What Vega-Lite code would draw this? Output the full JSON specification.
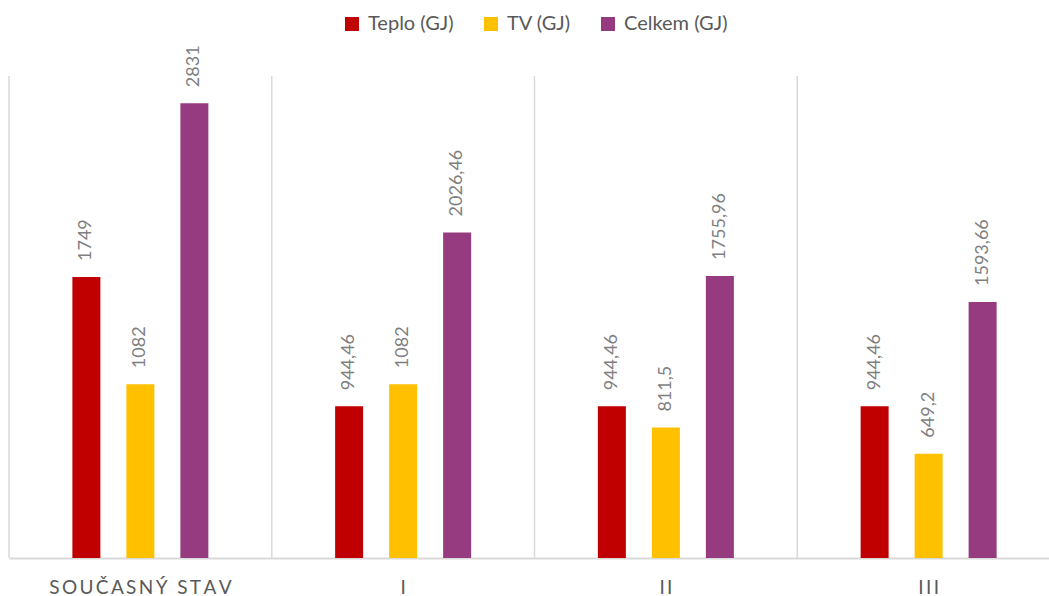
{
  "$schema": "https://vega.github.io/schema/vega-lite/v6.json",
  "width": 1040,
  "height": 482,
  "autosize": {"type": "none"},
  "padding": {"left": 9, "top": 76, "right": 0, "bottom": 38},
  "background": "white",
  "config": {
    "view": {"stroke": null},
    "font": "Lato",
    "locale": {"number": {"decimal": ",", "thousands": " ", "grouping": [3], "currency": ["", " Kč"]}}
  },
  "datasets": {
    "values": [
      {"cat": "SOUČASNÝ STAV", "series": "Teplo (GJ)", "value": 1749},
      {"cat": "SOUČASNÝ STAV", "series": "TV (GJ)", "value": 1082},
      {"cat": "SOUČASNÝ STAV", "series": "Celkem (GJ)", "value": 2831},
      {"cat": "I", "series": "Teplo (GJ)", "value": 944.46},
      {"cat": "I", "series": "TV (GJ)", "value": 1082},
      {"cat": "I", "series": "Celkem (GJ)", "value": 2026.46},
      {"cat": "II", "series": "Teplo (GJ)", "value": 944.46},
      {"cat": "II", "series": "TV (GJ)", "value": 811.5},
      {"cat": "II", "series": "Celkem (GJ)", "value": 1755.96},
      {"cat": "III", "series": "Teplo (GJ)", "value": 944.46},
      {"cat": "III", "series": "TV (GJ)", "value": 649.2},
      {"cat": "III", "series": "Celkem (GJ)", "value": 1593.66}
    ],
    "cats": [
      {"cat": "SOUČASNÝ STAV"},
      {"cat": "I"},
      {"cat": "II"},
      {"cat": "III"}
    ]
  },
  "encoding": {
    "x": {
      "field": "cat",
      "type": "nominal",
      "sort": ["SOUČASNÝ STAV", "I", "II", "III"],
      "scale": {"range": [0, 1051], "paddingInner": 0, "paddingOuter": 0},
      "axis": {
        "title": null,
        "ticks": false,
        "grid": false,
        "labelAngle": 0,
        "labelFont": "Lato",
        "labelFontSize": 19,
        "labelColor": "#595959",
        "labelPadding": 20,
        "labelDx": -5,
        "labelLimit": 0,
        "labelExpr": "join(split(datum.label, ''), '\u2009')",
        "domainColor": "#d9d9d9",
        "domainWidth": 2
      }
    }
  },
  "layer": [
    {
      "data": {"name": "cats"},
      "mark": {"type": "rule", "color": "#d9d9d9", "strokeWidth": 1.5},
      "encoding": {
        "x": {"field": "cat", "type": "nominal", "sort": ["SOUČASNÝ STAV", "I", "II", "III"], "bandPosition": 0},
        "y": {"datum": 0, "type": "quantitative", "scale": {"domain": [0, 3000], "nice": false}, "axis": null},
        "y2": {"datum": 3000}
      }
    },
    {
      "data": {"name": "values"},
      "mark": {"type": "bar", "width": 28},
      "encoding": {
        "xOffset": {"field": "series", "type": "nominal", "sort": ["Teplo (GJ)", "TV (GJ)", "Celkem (GJ)"], "scale": {"paddingInner": 0, "paddingOuter": 0.933}},
        "y": {"field": "value", "type": "quantitative", "scale": {"domain": [0, 3000], "nice": false}, "axis": null},
        "color": {
          "field": "series",
          "type": "nominal",
          "sort": ["Teplo (GJ)", "TV (GJ)", "Celkem (GJ)"],
          "scale": {"domain": ["Teplo (GJ)", "TV (GJ)", "Celkem (GJ)"], "range": ["#C00000", "#FFC000", "#963B7F"]},
          "legend": {
            "orient": "none",
            "legendX": 333,
            "legendY": -62,
            "direction": "horizontal",
            "title": null,
            "symbolType": "square",
            "symbolSize": 196,
            "symbolStrokeWidth": 0,
            "labelFont": "Lato",
            "labelFontSize": 20,
            "labelColor": "#595959",
            "labelOffset": 6,
            "columnPadding": 27,
            "padding": 0
          }
        }
      }
    },
    {
      "data": {"name": "values"},
      "mark": {"type": "text", "angle": 270, "align": "left", "baseline": "middle", "dx": 16, "fontSize": 18, "font": "Lato", "color": "#7f7f7f"},
      "encoding": {
        "xOffset": {"field": "series", "type": "nominal", "sort": ["Teplo (GJ)", "TV (GJ)", "Celkem (GJ)"], "scale": {"paddingInner": 0, "paddingOuter": 0.933}},
        "y": {"field": "value", "type": "quantitative", "scale": {"domain": [0, 3000], "nice": false}, "axis": null},
        "text": {"field": "value", "type": "quantitative", "format": "~f"}
      }
    }
  ]
}
